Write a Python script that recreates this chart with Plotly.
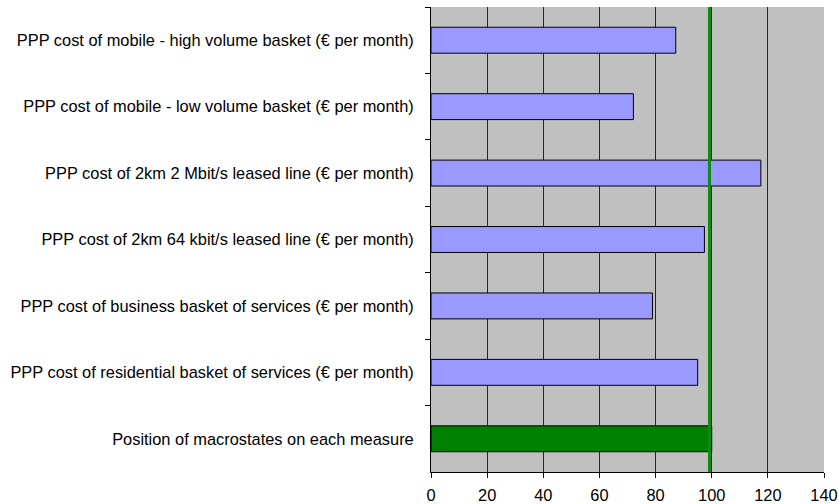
import plotly.graph_objects as go

# Measures, listed top to bottom
measures = [
    "PPP cost of mobile - high volume basket (€ per month)",
    "PPP cost of mobile - low volume basket (€ per month)",
    "PPP cost of 2km 2 Mbit/s leased line (€ per month)",
    "PPP cost of 2km 64 kbit/s leased line (€ per month)",
    "PPP cost of business basket of services (€ per month)",
    "PPP cost of residential basket of services (€ per month)",
    "Position of macrostates on each measure",
]
values = [87.2, 72.1, 117.5, 97.4, 78.9, 95.0, 100.0]
bar_colors = ["#9999FF"] * 6 + ["#008000"]

# Reference level marked by the vertical green line
reference_level = 99.2

x_ticks = [0, 20, 40, 60, 80, 100, 120, 140]

fig = go.Figure()
fig.add_trace(
    go.Bar(
        x=values,
        y=measures,
        orientation="h",
        marker=dict(color=bar_colors, line=dict(color="#000000", width=1)),
        hoverinfo="x+y",
    )
)

fig.add_shape(
    type="line",
    x0=reference_level, x1=reference_level,
    y0=0, y1=1,
    xref="x", yref="y domain",
    line=dict(color="#108A10", width=3),
    layer="above",
)

fig.update_layout(
    width=839,
    height=504,
    margin=dict(l=431, r=15, t=7, b=32, autoexpand=False),
    paper_bgcolor="#FFFFFF",
    plot_bgcolor="#C0C0C0",
    bargap=0.61,
    showlegend=False,
    font=dict(family="Liberation Sans, Arial, sans-serif", size=16.4, color="#000000"),
)

fig.update_xaxes(
    range=[0, 140],
    tickvals=x_ticks,
    ticktext=[str(v) for v in x_ticks],
    showgrid=True,
    gridcolor="#262626",
    gridwidth=1,
    showline=True,
    linecolor="#000000",
    linewidth=1,
    ticks="outside",
    ticklen=5,
    tickcolor="#000000",
    ticklabelstandoff=3,
    zeroline=False,
    automargin=False,
    fixedrange=True,
)

fig.update_yaxes(
    autorange="reversed",
    type="category",
    tickson="boundaries",
    showgrid=False,
    showline=True,
    linecolor="#000000",
    linewidth=1,
    ticks="outside",
    ticklen=5,
    tickcolor="#000000",
    ticklabelstandoff=13,
    automargin=False,
    fixedrange=True,
)

fig.write_html("out.html")
